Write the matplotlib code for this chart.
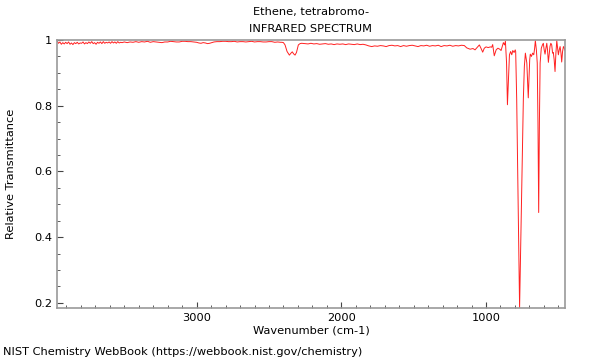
import numpy as np
import matplotlib
matplotlib.use("Agg")
import matplotlib.pyplot as plt
from matplotlib.ticker import MultipleLocator, FormatStrFormatter

# spectrum, wavenumber (cm-1) and relative transmittance
wn_hi = [3965, 3955, 3945, 3935, 3925, 3915, 3905, 3895, 3885, 3875, 3865, 3855,
         3845, 3835, 3825, 3815, 3805, 3795, 3785, 3775, 3765, 3755, 3745, 3735,
         3725, 3715, 3705, 3695, 3685, 3675, 3665, 3655, 3645, 3635, 3625, 3615,
         3605, 3595, 3585, 3575, 3565, 3555, 3545, 3535, 3525, 3515, 3500]
tr_hi = [0.998, 0.990, 0.994, 0.987, 0.992, 0.988, 0.993, 0.989, 0.994, 0.987, 0.991, 0.986,
         0.992, 0.989, 0.993, 0.988, 0.991, 0.990, 0.994, 0.988, 0.992, 0.989, 0.994, 0.990,
         0.995, 0.989, 0.992, 0.987, 0.993, 0.990, 0.994, 0.989, 0.995, 0.990, 0.993, 0.991,
         0.994, 0.990, 0.995, 0.991, 0.994, 0.990, 0.995, 0.991, 0.993, 0.992, 0.994]

wn_mid = [3480, 3460, 3440, 3420, 3400, 3380, 3360, 3340, 3320, 3300, 3280, 3260,
          3240, 3220, 3200, 3180, 3160, 3140, 3120, 3100, 3080, 3060, 3040, 3020,
          3000, 2985, 2970, 2955, 2940, 2925, 2910, 2895, 2880, 2860, 2840, 2820,
          2800, 2780, 2760, 2740, 2720, 2700, 2680, 2660, 2640, 2620, 2600, 2580,
          2560, 2540, 2520, 2500, 2480, 2460, 2440, 2420, 2410]
tr_mid = [0.992, 0.994, 0.993, 0.995, 0.993, 0.995, 0.994, 0.996, 0.993, 0.995, 0.994, 0.993,
          0.992, 0.994, 0.994, 0.996, 0.995, 0.994, 0.994, 0.996, 0.996, 0.995, 0.995, 0.994,
          0.993, 0.991, 0.990, 0.992, 0.991, 0.989, 0.990, 0.992, 0.994, 0.995, 0.995, 0.996,
          0.996, 0.995, 0.995, 0.996, 0.994, 0.995, 0.995, 0.994, 0.995, 0.996, 0.994, 0.995,
          0.995, 0.994, 0.994, 0.995, 0.995, 0.993, 0.994, 0.993, 0.993]

# CO2 band
wn_co2 = [2400, 2389, 2375, 2359, 2348, 2339, 2330, 2320, 2310, 2297, 2285, 2274, 2250]
tr_co2 = [0.992, 0.985, 0.965, 0.954, 0.960, 0.964, 0.958, 0.954, 0.962, 0.985, 0.989, 0.990, 0.989]

wn_flat = [2230, 2210, 2190, 2170, 2150, 2130, 2110, 2090, 2070, 2050, 2030, 2010,
           1990, 1970, 1950, 1930, 1910, 1890, 1870, 1850, 1830, 1810, 1790, 1770,
           1750, 1730, 1710, 1690, 1670, 1650, 1630, 1610, 1590, 1570, 1550, 1530,
           1510, 1490, 1470, 1450, 1430, 1410, 1390, 1370, 1350, 1330, 1310, 1290,
           1270, 1250, 1230, 1210, 1190, 1170, 1150]
tr_flat = [0.988, 0.990, 0.988, 0.989, 0.987, 0.988, 0.989, 0.987, 0.988, 0.986, 0.988, 0.987,
           0.988, 0.986, 0.988, 0.987, 0.986, 0.988, 0.986, 0.987, 0.985, 0.982, 0.980, 0.982,
           0.981, 0.983, 0.982, 0.980, 0.983, 0.984, 0.982, 0.983, 0.980, 0.983, 0.981, 0.983,
           0.984, 0.982, 0.980, 0.983, 0.982, 0.984, 0.981, 0.983, 0.982, 0.984, 0.980, 0.983,
           0.982, 0.984, 0.981, 0.983, 0.982, 0.984, 0.983]

wn_fp = [1133, 1110, 1090, 1076, 1060, 1046, 1035, 1023, 1012, 1000, 985, 970,
         961, 954, 943, 930, 918, 905, 896, 888, 880, 872, 866, 858,
         852, 845, 838, 830, 822, 815, 806, 798, 795, 788, 778, 768,
         755, 742, 735, 728, 718, 708, 698, 694, 686, 678, 670, 664,
         659, 652, 646, 641, 636, 631, 626, 618, 610, 604, 598, 592,
         586, 580, 575, 569, 563, 558, 552, 546, 540, 535, 529, 523,
         517, 511, 505, 500, 494, 488, 482, 477, 471, 465, 459, 454]
tr_fp = [0.976, 0.972, 0.974, 0.970, 0.978, 0.985, 0.975, 0.963, 0.975, 0.979, 0.977, 0.979,
         0.978, 0.986, 0.952, 0.970, 0.975, 0.972, 0.968, 0.980, 0.992, 0.985, 0.996, 0.930,
         0.803, 0.880, 0.955, 0.965, 0.955, 0.968, 0.962, 0.970, 0.965, 0.820, 0.500, 0.185,
         0.500, 0.820, 0.920, 0.960, 0.930, 0.824, 0.940, 0.957, 0.950, 0.960, 0.955, 0.975,
         0.998, 0.970, 0.930, 0.750, 0.475, 0.750, 0.930, 0.975, 0.985, 0.990, 0.970, 0.957,
         0.975, 0.990, 0.970, 0.932, 0.960, 0.980, 0.990, 0.985, 0.960, 0.962, 0.940, 0.904,
         0.960, 0.998, 0.975, 0.955, 0.970, 0.980, 0.960, 0.933, 0.965, 0.980, 0.975, 0.968]

wn = wn_hi + wn_mid + wn_co2 + wn_flat + wn_fp
tr = tr_hi + tr_mid + tr_co2 + tr_flat + tr_fp

fs = 8.2
fig = plt.figure(figsize=(6, 3.6), dpi=100)
ax = fig.add_axes([0.095, 0.1445, 0.8467, 0.7444])
ax.plot(wn, tr, color='#ff2020', lw=0.7)

ax.set_xlim(3965, 454)
ax.set_ylim(0.1845, 1.0)
ax.xaxis.set_major_locator(MultipleLocator(1000))
ax.xaxis.set_minor_locator(MultipleLocator(100))
ax.yaxis.set_major_locator(MultipleLocator(0.2))
ax.yaxis.set_minor_locator(MultipleLocator(0.05))
ax.yaxis.set_major_formatter(FormatStrFormatter('%g'))
ax.tick_params(which='both', direction='in', labelsize=fs, color='#444444')
ax.tick_params(which='major', length=4, width=0.8)
ax.tick_params(which='minor', length=2, width=0.6)
for s in ax.spines.values():
    s.set_color('#999999')
    s.set_linewidth(1.2)

ax.set_xlabel('Wavenumber (cm-1)', fontsize=fs, labelpad=2)
ax.set_ylabel('Relative Transmittance', fontsize=fs)
ax.yaxis.set_label_coords(-0.08, 0.5)

fig.text(0.518, 1 - 12 / 360, 'Ethene, tetrabromo-', ha='center', va='center', fontsize=fs)
fig.text(0.518, 1 - 29 / 360, 'INFRARED SPECTRUM', ha='center', va='center', fontsize=fs)
fig.text(0.005, 1 - 352 / 360, 'NIST Chemistry WebBook (https://webbook.nist.gov/chemistry)',
         ha='left', va='center', fontsize=fs)

fig.savefig('out.png', dpi=100)
